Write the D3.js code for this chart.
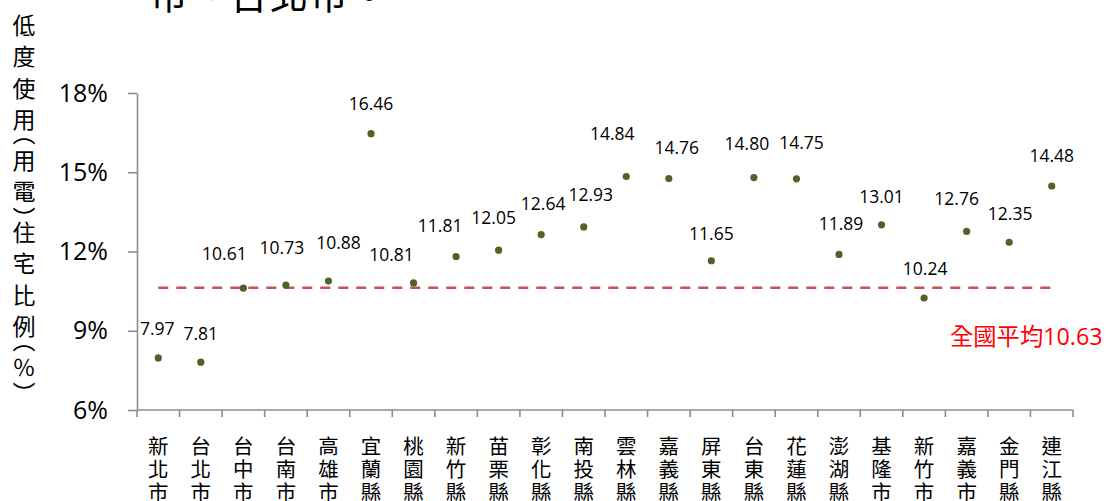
<!DOCTYPE html>
<html>
<head>
<meta charset="utf-8">
<script src="https://cdn.jsdelivr.net/npm/d3@7"></script>
<style>
  html, body { margin: 0; padding: 0; background: #fff; }
  svg { display: block; }
  text { font-family: "Open Sans", "Noto Sans CJK TC", sans-serif; }
  .cjk { font-family: "Noto Sans CJK TC", sans-serif; }
  .vert {
    font-family: "Noto Sans CJK TC", sans-serif;
    writing-mode: vertical-rl;
  }
</style>
</head>
<body>
<svg id="chart" width="1107" height="501"></svg>
<script>
// Counties / cities on the category axis
const categories = [
  "新北市", "台北市", "台中市", "台南市", "高雄市", "宜蘭縣", "桃園縣", "新竹縣",
  "苗栗縣", "彰化縣", "南投縣", "雲林縣", "嘉義縣", "屏東縣", "台東縣", "花蓮縣",
  "澎湖縣", "基隆市", "新竹市", "嘉義市", "金門縣", "連江縣"
];

// Share of low-usage (low electricity) dwellings, %
const lowUsageShare = [
  7.97, 7.81, 10.61, 10.73, 10.88, 16.46, 10.81, 11.81,
  12.05, 12.64, 12.93, 14.84, 14.76, 11.65, 14.80, 14.75,
  11.89, 13.01, 10.24, 12.76, 12.35, 14.48
];

// National average, %
const nationalAverage = 10.63;

// Y-axis ticks, %
const yTicks = [6, 9, 12, 15, 18];

// Value-label nudges [dx, dy] from each point, in pixels
const labelNudge = [
  [-1, -30], [0, -29], [-19, -35], [-4, -38], [10, -39], [0, -31], [-22, -29], [-16, -32],
  [-5, -33], [2, -32], [7, -33], [-14, -43], [8, -32], [0, -28], [-7, -35], [5, -37],
  [2, -31], [0, -29], [1, -30], [-10, -33], [1, -29], [0, -31]
];

const svg = d3.select("#chart");

const plot = { left: 137, right: 1073, top: 93, bottom: 410 };

const x = d3.scaleBand()
  .domain(categories)
  .range([plot.left, plot.right])
  .padding(0);

const y = d3.scaleLinear()
  .domain([6, 18])
  .range([plot.bottom, plot.top]);

const axisColor = "#8c8c8c";

// Heading fragment at the top
svg.append("text")
  .attr("class", "cjk")
  .attr("x", 150)
  .attr("y", 9)
  .attr("font-size", 38)
  .attr("letter-spacing", 2)
  .attr("fill", "#000")
  .text("市、台北市。");

// Vertical y-axis title: ideographs step 31.5px, brackets sit tight
// against the characters they enclose.
const yTitleChars = Array.from("低度使用（用電）住宅比例（％）");
const yTitleFont = 23;
const yTitle = svg.append("text")
  .attr("class", "vert")
  .attr("x", 24)
  .attr("font-size", yTitleFont)
  .attr("fill", "#000");
{
  let pos = 13.5;            // centre of the first character
  const halfStep = ch => (ch === "（" || ch === "）") ? 4.5 : 15.75;
  yTitleChars.forEach((ch, i) => {
    if (i > 0) pos += halfStep(yTitleChars[i - 1]) + halfStep(ch);
    // vertical bracket glyphs lie in one half of their em box
    let top = pos - yTitleFont / 2;
    if (ch === "（") top = pos - yTitleFont * 0.78;
    if (ch === "）") top = pos - yTitleFont * 0.22;
    yTitle.append("tspan")
      .attr("x", 24)
      .attr("y", top + 11.5)
      .text(ch);
  });
}

// Y axis
const yAxis = svg.append("g")
  .attr("transform", `translate(${plot.left},0)`)
  .call(d3.axisLeft(y)
    .tickValues(yTicks)
    .tickSize(9)
    .tickSizeOuter(0)
    .tickPadding(20)
    .tickFormat(d => d + "%"));
yAxis.select(".domain").attr("stroke", axisColor).attr("stroke-width", 1.6);
yAxis.selectAll(".tick line").attr("stroke", axisColor).attr("stroke-width", 1.6);
yAxis.selectAll(".tick text")
  .attr("font-family", "'Open Sans', sans-serif")
  .attr("font-size", 25)
  .attr("fill", "#000");

// X axis: baseline with ticks on the category boundaries
const xAxis = svg.append("g");
xAxis.append("line")
  .attr("x1", plot.left).attr("x2", plot.right)
  .attr("y1", plot.bottom).attr("y2", plot.bottom)
  .attr("stroke", axisColor).attr("stroke-width", 1.6);
const boundaries = categories.map(c => x(c)).concat([x.range()[1]]);
xAxis.selectAll("line.tick")
  .data(boundaries)
  .join("line")
  .attr("class", "tick")
  .attr("x1", d => d).attr("x2", d => d)
  .attr("y1", plot.bottom).attr("y2", plot.bottom + 7)
  .attr("stroke", axisColor).attr("stroke-width", 1.6);

// Category labels, written top to bottom
const cx = c => x(c) + x.bandwidth() / 2;
xAxis.selectAll("text.cat")
  .data(categories)
  .join("text")
  .attr("class", "cat vert")
  .attr("x", d => cx(d))
  .attr("y", 436)
  .attr("font-size", 20.5)
  .attr("letter-spacing", 2.5)
  .attr("fill", "#000")
  .text(d => d);

// National average reference line
svg.append("line")
  .attr("x1", cx(categories[0]))
  .attr("x2", cx(categories[categories.length - 1]))
  .attr("y1", y(nationalAverage))
  .attr("y2", y(nationalAverage))
  .attr("stroke", "#c9504f")
  .attr("stroke-width", 2.4)
  .attr("stroke-dasharray", "10,8");

svg.append("text")
  .attr("x", 950)
  .attr("y", 336)
  .attr("dominant-baseline", "central")
  .attr("font-size", 23.3)
  .attr("fill", "#ff0000")
  .text("全國平均" + nationalAverage.toFixed(2));

// Points
const pts = categories.map((c, i) => ({ c, v: lowUsageShare[i], n: labelNudge[i] }));

svg.append("g")
  .selectAll("circle")
  .data(pts)
  .join("circle")
  .attr("cx", d => cx(d.c))
  .attr("cy", d => y(d.v))
  .attr("r", 3.6)
  .attr("fill", "#4f6228");

// Value labels
svg.append("g")
  .selectAll("text")
  .data(pts)
  .join("text")
  .attr("x", d => cx(d.c) + d.n[0])
  .attr("y", d => y(d.v) + d.n[1])
  .attr("text-anchor", "middle")
  .attr("dominant-baseline", "central")
  .attr("font-size", 17.5)
  .attr("fill", "#000")
  .text(d => d.v.toFixed(2));
</script>
</body>
</html>
